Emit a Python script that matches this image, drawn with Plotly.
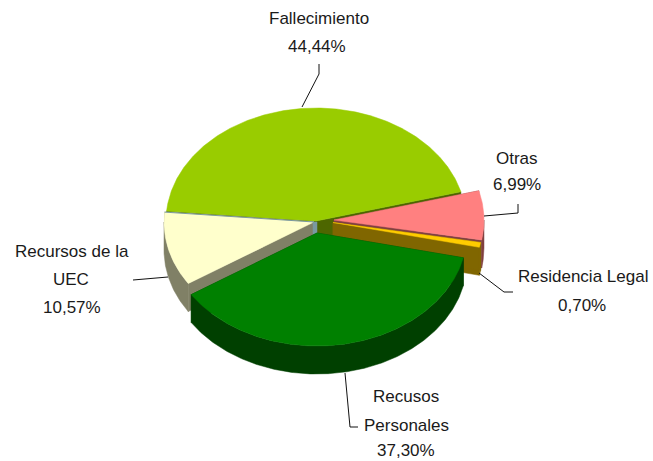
import numpy as np
import plotly.graph_objects as go

# ---- data ----
categories = ["Fallecimiento", "Recursos de la UEC", "Recusos Personales", "Residencia Legal", "Otras"]
label_lines = [["Fallecimiento"], ["Recursos de la", "UEC"], ["Recusos", "Personales"], ["Residencia Legal"], ["Otras"]]
values = [44.44, 10.57, 37.30, 0.70, 6.99]
top_colors = ["#99CC00", "#FFFFCC", "#008000", "#FFCC00", "#FF8080"]
side_colors = ["#4D6600", "#808066", "#004000", "#806600", "#804040"]
seam_color = "#7A99A0"

# ---- layout of the 3-D pie ----
W, H = 653, 461
RX, RY, DEPTH = 150, 113, 28
START = 15.0
centers = [(316, 221), (314, 222), (317, 233), (333, 222.5), (334, 220)]
draw_order = [0, 4, 3, 1, 2]
label_pos = [[(319, 18), (317, 46)], [(72, 251), (71, 279), (72, 307)],
             [(406, 396), (406, 425), (406, 450)], [(583, 276), (582, 305)], [(517, 158), (517, 184)]]
leaders = [[(302, 107), (319, 74), (319, 64)], [(133, 280), (168, 277)],
           [(345, 373), (350, 427), (358, 427)], [(479, 273), (504, 292), (513, 292)],
           [(484, 216), (518, 213), (518, 204)]]

angles = START + np.concatenate([[0], np.cumsum(values)]) * 3.6


def rim(c, a0, a1):
    t = np.radians(np.linspace(a0, a1, max(int(abs(a1 - a0)) * 2, 2)))
    return c[0] + RX * np.cos(t), c[1] - RY * np.sin(t)


def poly(fig, xs, ys, color, name):
    fig.add_trace(go.Scatter(x=xs, y=ys, mode="lines", fill="toself", fillcolor=color,
                             line=dict(color=color, width=0.5), hoverinfo="skip",
                             showlegend=False, name=name))


def cut_wall(fig, c, a, color, name):
    x, y = rim(c, a, a)
    x, y = x[0], y[0]
    poly(fig, [c[0], x, x, c[0], c[0]], [c[1], y, y + DEPTH, c[1] + DEPTH, c[1]], color, name)


fig = go.Figure()
for i in draw_order:
    c, a0, a1 = centers[i], angles[i], angles[i + 1]
    if i == 2:
        # blue-grey seam between the Fallecimiento and UEC slices
        cu, cf = centers[1], centers[0]
        sx, sy = rim(cu, angles[1], angles[1])
        fig.add_trace(go.Scatter(x=[sx[0], cu[0]], y=[sy[0], cu[1]], mode="lines",
                                 line=dict(color=seam_color, width=1), hoverinfo="skip", showlegend=False))
        poly(fig, [cu[0] - 1, cf[0] + 1, cf[0] + 1, cu[0] - 1, cu[0] - 1],
             [cu[1], cu[1], cu[1] + DEPTH / 2, cu[1] + DEPTH / 2, cu[1]], seam_color, "seam")
    cut_wall(fig, c, a0, side_colors[i], categories[i])
    cut_wall(fig, c, a1, side_colors[i], categories[i])
    lo, hi = max(a0, 180), min(a1, 360)
    if hi > lo:
        x, y = rim(c, lo, hi)
        poly(fig, np.r_[x, x[::-1], x[0]], np.r_[y, y[::-1] + DEPTH, y[0]], side_colors[i], categories[i])
    x, y = rim(c, a0, a1)
    poly(fig, np.r_[c[0], x, c[0]], np.r_[c[1], y, c[1]], top_colors[i], categories[i])

annotations = []
for i, lines in enumerate(label_lines):
    texts = lines + [f"{values[i]:.2f}".replace(".", ",") + "%"]
    for t, (px, py) in zip(texts, label_pos[i]):
        annotations.append(dict(x=px, y=py, xref="x", yref="y", text=t, showarrow=False,
                                xanchor="center", yanchor="middle",
                                font=dict(family="Liberation Sans", size=17, color="#1a1a1a")))

for pts in leaders:
    fig.add_trace(go.Scatter(x=[p[0] for p in pts], y=[p[1] for p in pts], mode="lines",
                             line=dict(color="#111111", width=1), hoverinfo="skip", showlegend=False))

fig.update_layout(width=W, height=H, margin=dict(l=0, r=0, t=0, b=0),
                  paper_bgcolor="white", plot_bgcolor="white", annotations=annotations,
                  xaxis=dict(range=[0, W], visible=False, fixedrange=True),
                  yaxis=dict(range=[H, 0], visible=False, fixedrange=True))
fig.write_html("out.html", post_script="document.body.style.margin='0';",
               config={"displayModeBar": False})
